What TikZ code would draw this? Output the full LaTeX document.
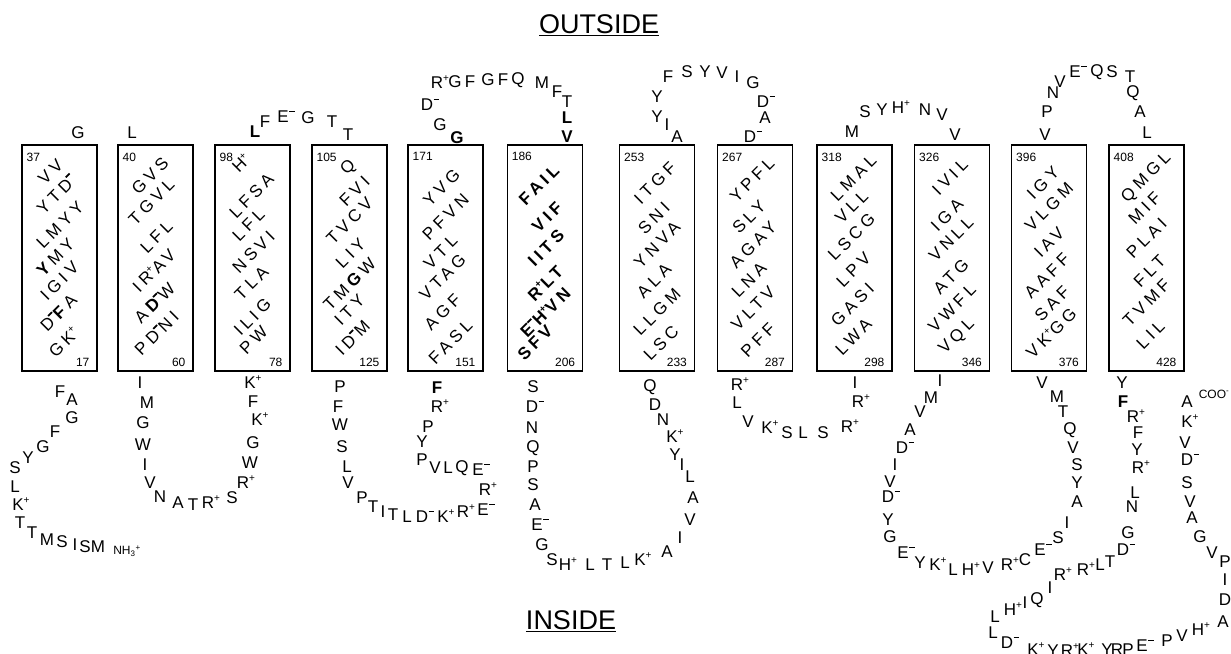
\documentclass[tikz,border=0pt]{standalone}
\usepackage{fontspec}
\setmainfont{Liberation Sans}
\newfontfamily\tmfont[LetterSpace=24]{Liberation Sans}
\usepackage{tikz}
\usetikzlibrary{positioning}

% charges: zero width in the loops, real width inside the helices
\newcommand{\chp}{\rlap{\smash{\raisebox{0.42em}{\fontsize{10}{10}\selectfont+}}}}
\newcommand{\chm}{\rlap{\smash{\hspace{0.5pt}\raisebox{0.62em}{\rule{0.32em}{0.1em}}}}}
\newcommand{\rowp}{\raisebox{0.42em}{\fontsize{10}{10}\selectfont+}}
\newcommand{\rowm}{\raisebox{0.62em}{\rule{0.32em}{0.1em}}}

\tikzset{
  aa/.style={font=\fontsize{17}{17}\selectfont, inner sep=0pt},
  tmbox/.style={draw, minimum width=75pt, minimum height=226pt, inner sep=0pt},
  tmrow/.style={font=\tmfont\fontsize{17}{17}\selectfont, inner sep=0pt, rotate=45},
  tmrowbold/.style={tmrow, font=\tmfont\bfseries\fontsize{17}{17}\selectfont},
  tmnum/.style={font=\fontsize{12}{12}\selectfont, inner sep=0pt},
  sidelabel/.style={font=\fontsize{27}{27}\selectfont, inner sep=0pt},
  termlabel/.style={font=\fontsize{12}{12}\selectfont, inner sep=0pt}
}

\begin{document}
\begin{tikzpicture}[x=1pt, y=-1pt]
\useasboundingbox (0,0) rectangle (1231,653);

\node[sidelabel] (outside) at (599,25) {\underline{OUTSIDE}};
\node[sidelabel] (inside) at (571,621) {\underline{INSIDE}};

% helices
\foreach \i/\cx/\ntop/\nbot/\lw in {1/59.5/37/17/1.1, 2/155.5/40/60/1.1, 3/252.5/98/78/1.1,
  4/349.5/105/125/1.1, 5/445.5/171/151/1.1, 6/545/186/206/1.7, 7/657/253/233/1.1,
  8/755/267/287/1.1, 9/854.5/318/298/1.1, 10/952/326/346/1.1, 11/1049/396/376/1.1,
  12/1146.5/408/428/1.1}{
  \node[tmbox, line width=\lw pt] (h\i) at (\cx,258) {};
  \node[tmnum, anchor=north west] (h\i-top) at ([shift={(5,8)}]h\i.north west) {\ntop};
  \node[tmnum, anchor=south east] (h\i-bot) at ([shift={(-8,-5)}]h\i.south east) {\nbot};
}

\foreach \x/\y/\t [count=\k] in {50.5/172/VV, 56.5/194/YTD\rowm, 60/225/LMYY, 55.5/257/\textbf{Y}MY,
  59.5/281/IGIV, 58.5/313/D\rowm\textbf{F}A, 63.5/342/GK\rowp}
  \node[tmrow] (r1-\k) at (\x,\y) {\t};
\foreach \x/\y/\t [count=\k] in {150/176/GVS, 151.5/202/TGVL, 156.5/237/LFL, 153.5/270/IR\rowp AV,
  154.5/303/A\textbf{D\rowm}W, 156.5/333/PD\rowm NI}
  \node[tmrow] (r2-\k) at (\x,\y) {\t};
\foreach \x/\y/\t [count=\k] in {241/163/H\rowp, 251.5/196/LFSA, 248.5/225/LFL, 253.5/252/NSVI,
  251.5/283/TLA, 252.5/317/ILIG, 253.5/340/PW}
  \node[tmrow] (r3-\k) at (\x,\y) {\t};
\foreach \x/\y/\t [count=\k] in {348.5/168/Q, 354.5/191/FVI, 349.5/221/TVCV, 350.5/253/LIY,
  349.5/284/TM\textbf{G}W, 349.5/310/ITY, 352.5/338/ID\rowm M}
  \node[tmrow] (r4-\k) at (\x,\y) {\t};
\foreach \x/\y/\t [count=\k] in {441.5/188/YVG, 445.5/217/PFVN, 440.5/252/VTL, 442.5/277/VTAG,
  442.5/312/AGF, 450.5/342/FASL}
  \node[tmrow] (r5-\k) at (\x,\y) {\t};
\foreach \x/\y/\t [count=\k] in {539/185/FAIL, 547/217/VIF, 546/248/IITS, 545/283/R\rowp LT,
  545/312/E\rowm H\rowp VN, 535/343/SFV}
  \node[tmrowbold] (r6-\k) at (\x,\y) {\t};
\foreach \x/\y/\t [count=\k] in {655/183/ITGF, 654/218/SNI, 657/245/YNVA, 654/281/ALA,
  657/312/LLGM, 661/343/LSC}
  \node[tmrow] (r7-\k) at (\x,\y) {\t};
\foreach \x/\y/\t [count=\k] in {752/180/YPFL, 749/217/SLY, 753/245/AGAY, 749/280/LNA,
  753/308/VLTV, 758/340/PFF}
  \node[tmrow] (r8-\k) at (\x,\y) {\t};
\foreach \x/\y/\t [count=\k] in {853.5/178/LMAL, 851.5/207/VLL, 851.5/237/LSCG, 853.5/270/LPV,
  852.5/305/GASI, 853.5/337/LWA}
  \node[tmrow] (r9-\k) at (\x,\y) {\t};
\foreach \x/\y/\t [count=\k] in {950/177/IVIL, 947/215/IGA, 951/239/VNLL, 951/277/ATG,
  952/308/VWFL, 957/337/VQL}
  \node[tmrow] (r10-\k) at (\x,\y) {\t};
\foreach \x/\y/\t [count=\k] in {1043/183/IGY, 1049/207/VLGM, 1049/242/IAV, 1047/276/AAFF,
  1052/304/SAF, 1051/333/VK\rowp GG}
  \node[tmrow] (r11-\k) at (\x,\y) {\t};
\foreach \x/\y/\t [count=\k] in {1146.5/178/QMGL, 1144.5/208/MIF, 1146.5/238/PLAI, 1149.5/271/FLT,
  1146.5/303/TVMF, 1150.5/335/LIL}
  \node[tmrow] (r12-\k) at (\x,\y) {\t};

% outside loops
\foreach \x/\y/\t [count=\k] in {78/133/G, 132/133/L,
  255/132/\textbf{L}, 265/122/F, 283/117/E\chm, 308/118/G, 332/122/T, 348/135/T}
  \node[aa] (o1-\k) at (\x,\y) {\t};
\foreach \x/\y/\t [count=\k] in {457/138/\textbf{G}, 440/125/G, 427/105/D\chm, 437/83/R\chp,
  455/82/G, 470/82/F, 488/80/G, 503/80/F, 518/80/Q, 542/83/M, 557/92/F, 567/102/T,
  567/118/\textbf{L}, 567/137/\textbf{V}}
  \node[aa] (o3-\k) at (\x,\y) {\t};
\foreach \x/\y/\t [count=\k] in {677/137/A, 667/125/I, 657/117/Y, 657/97/Y, 668/77/F, 687/72/S,
  705/72/Y, 722/73/V, 737/77/I, 753/83/G, 763/102/D\chm, 765/118/A, 750/137/D\chm}
  \node[aa] (o4-\k) at (\x,\y) {\t};
\foreach \x/\y/\t [count=\k] in {852/132/M, 865/112/S, 882/110/Y, 898/108/H\chp, 925/110/N,
  942/115/V, 955/135/V}
  \node[aa] (o5-\k) at (\x,\y) {\t};
\foreach \x/\y/\t [count=\k] in {1045/135/V, 1047/112/P, 1053/93/N, 1060/82/V, 1075/72/E\chm,
  1097/72/Q, 1112/72/S, 1130/77/T, 1133/93/Q, 1140/112/A, 1147/133/L}
  \node[aa] (o6-\k) at (\x,\y) {\t};

% inside loops
\foreach \x/\y/\t [count=\k] in {60/392/F, 72/400/A, 72/418/G, 55/432/F, 43/447/G, 28/458/Y,
  15/468/S, 15/487/L, 18/505/K\chp, 20/523/T, 32/533/T, 47/540/M, 62/542/S, 75/545/I,
  85/547/S, 98/547/M}
  \node[aa] (i1-\k) at (\x,\y) {\t};
\node[termlabel] (nterm) at (127,551) {NH\textsubscript{3}\textsuperscript{+}};
\foreach \x/\y/\t [count=\k] in {140/383/I, 147/403/M, 143/423/G, 143/445/W, 145/465/I,
  150/483/V, 160/497/N, 178/503/A, 193/505/T, 208/503/R\chp, 232/498/S, 243/483/R\chp,
  250/463/W, 253/443/G, 257/420/K\chp, 253/402/F, 250/383/K\chp}
  \node[aa] (i2-\k) at (\x,\y) {\t};
\foreach \x/\y/\t [count=\k] in {340/387/P, 338/407/F, 340/425/W, 342/447/S, 347/467/L,
  348/483/V, 362/498/P, 373/507/T, 383/512/I, 393/515/T, 407/517/L, 422/517/D\chm,
  443/517/K\chp, 463/512/R\chp, 483/510/E\chm, 485/490/R\chp, 478/470/E\chm, 462/468/Q,
  448/468/L, 435/468/V, 422/460/P, 422/442/Y, 428/427/P, 437/407/R\chp, 437/388/\textbf{F}}
  \node[aa] (i3-\k) at (\x,\y) {\t};
\foreach \x/\y/\t [count=\k] in {533/387/S, 532/407/D\chm, 532/428/N, 533/448/Q, 533/467/P,
  533/485/S, 535/505/A, 537/525/E\chm, 542/545/G, 552/560/S, 565/565/H\chp, 590/565/L,
  607/565/T, 625/563/L, 640/560/K\chp, 667/552/A, 680/538/I, 690/520/V, 693/498/A,
  690/477/L, 682/465/I, 675/455/Y, 672/437/K\chp, 663/420/N, 655/405/D, 650/387/Q}
  \node[aa] (i4-\k) at (\x,\y) {\t};
\foreach \x/\y/\t [count=\k] in {737/385/R\chp, 737/403/L, 748/422/V, 767/428/K\chp,
  787/433/S, 803/433/L, 823/433/S, 847/427/R\chp, 858/402/R\chp, 855/383/I}
  \node[aa] (i5-\k) at (\x,\y) {\t};
\foreach \x/\y/\t [count=\k] in {940/381/I, 931/398/M, 920/412/V, 910/430/A, 902/448/D\chm,
  895/465/I, 890/482/V, 888/497/D\chm, 888/520/Y, 890/537/G, 903/553/E\chm, 920/563/Y,
  935/565/K\chp, 953/570/L, 968/570/H\chp, 988/568/V, 1007/565/R\chp, 1025/560/C,
  1040/550/E\chm, 1058/538/S, 1067/523/I, 1077/502/A, 1077/483/Y, 1077/465/S, 1073/448/V,
  1070/430/Q, 1063/412/T, 1057/397/M, 1042/383/V}
  \node[aa] (i6-\k) at (\x,\y) {\t};
\foreach \x/\y/\t [count=\k] in {1122/383/Y, 1123/402/\textbf{F}, 1133/417/R\chp, 1138/433/F,
  1137/450/Y, 1138/468/R\chp, 1135/493/L, 1132/507/N, 1128/533/G, 1123/550/D\chm,
  1110/562/T, 1100/565/L, 1083/570/R\chp, 1060/575/R\chp, 1050/588/I, 1037/600/Q,
  1025/603/I, 1010/610/H\chp, 995/617/L, 993/633/L, 1007/643/D\chm, 1033/650/K\chp,
  1053/651/Y, 1067/651/R\chp, 1083/650/K\chp, 1107/650/Y, 1117/650/R, 1128/650/P,
  1142/646/E\chm, 1167/641/P, 1182/636/V, 1198/630/H\chp, 1223/622/A, 1225/600/D,
  1225/580/I, 1225/562/P, 1212/553/V, 1200/537/G, 1192/518/A, 1190/502/V, 1187/483/S,
  1187/460/D\chm, 1185/443/V, 1187/422/K\chp, 1187/402/A}
  \node[aa] (i7-\k) at (\x,\y) {\t};
\node[termlabel] (cterm) at (1214,394) {COO\textsuperscript{-}};
\end{tikzpicture}
\end{document}
